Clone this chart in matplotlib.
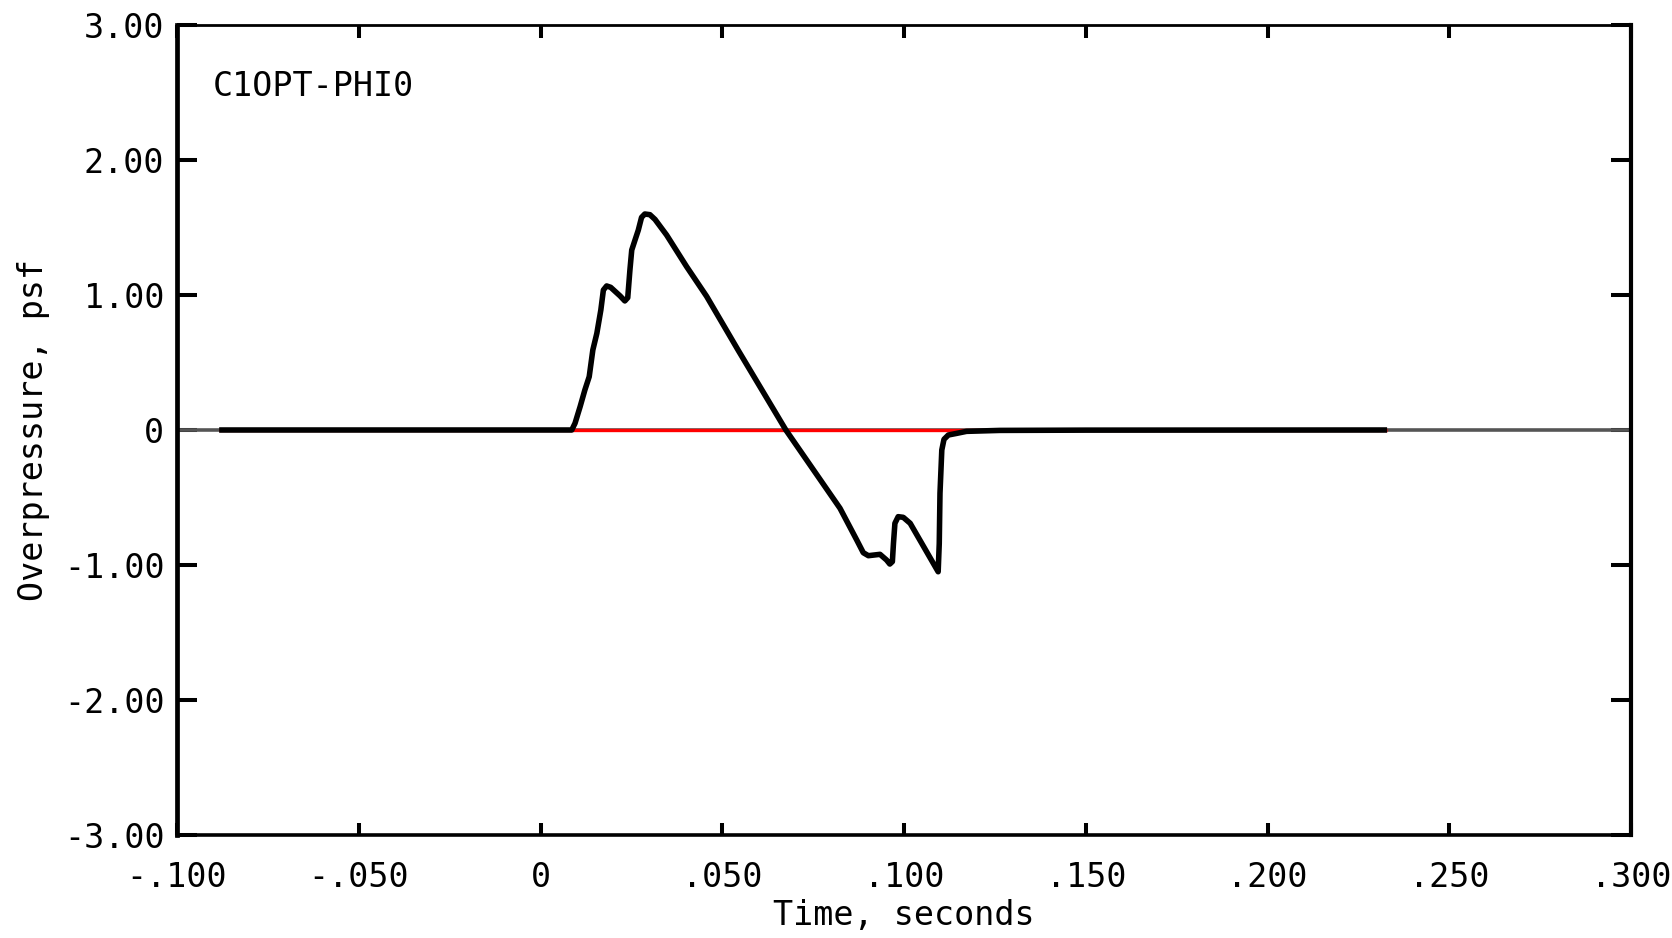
import matplotlib
matplotlib.use("Agg")
import matplotlib.pyplot as plt

# ---- data ----
time_s = [-0.0884, 0.0086, 0.0095, 0.0109, 0.0122, 0.0134, 0.0144, 0.0155, 0.0166,
          0.0173, 0.0182, 0.0193, 0.0219, 0.0232, 0.0240, 0.0246, 0.0251, 0.0260,
          0.0269, 0.0278, 0.0287, 0.0301, 0.0315, 0.0347, 0.0402, 0.0457, 0.0544,
          0.0675, 0.0824, 0.0870, 0.0888, 0.0902, 0.0934, 0.0952, 0.0961, 0.0968,
          0.0971, 0.0975, 0.0984, 0.0998, 0.1017, 0.1094, 0.1097, 0.1099, 0.1104,
          0.1110, 0.1122, 0.1145, 0.1172, 0.1264, 0.1500, 0.2329]
pressure_psf = [0.0, 0.0, 0.05, 0.173, 0.296, 0.395, 0.593, 0.716, 0.889,
                1.037, 1.067, 1.057, 0.993, 0.956, 0.98, 1.185, 1.333, 1.407,
                1.48, 1.575, 1.60, 1.595, 1.56, 1.444, 1.21, 0.99, 0.59,
                0.0, -0.58, -0.815, -0.909, -0.931, -0.921, -0.963, -0.993, -0.975,
                -0.84, -0.691, -0.642, -0.647, -0.691, -1.05, -0.84, -0.469, -0.148,
                -0.069, -0.037, -0.025, -0.010, -0.003, -0.001, 0.0]
ref_red_t = [-0.0884, 0.2329]
ref_red_p = [0.0, 0.0]
zero_t = [-0.100, 0.300]
zero_p = [0.0, 0.0]

xticks = [-0.100, -0.050, 0.0, 0.050, 0.100, 0.150, 0.200, 0.250, 0.300]
xticklabels = ["-.100", "-.050", "0", ".050", ".100", ".150", ".200", ".250", ".300"]
yticks = [3.0, 2.0, 1.0, 0.0, -1.0, -2.0, -3.0]
yticklabels = ["3.00", "2.00", "1.00", "0", "-1.00", "-2.00", "-3.00"]
case_label = "C1OPT-PHI0"
xlabel = "Time, seconds"
ylabel = "Overpressure, psf"

plt.rcParams["font.family"] = ["DejaVu Sans Mono"]
fs = 24

W, H = 1672, 938
fig = plt.figure(figsize=(W / 100, H / 100), dpi=100)
L, R, T, B = 177, 1631, 25, 835
ax = fig.add_axes([L / W, 1 - B / H, (R - L) / W, (B - T) / H])

ax.plot(zero_t, zero_p, color="#555555", lw=2.6, zorder=2, solid_capstyle="butt")
ax.plot(ref_red_t, ref_red_p, color="#ff0000", lw=2.4, zorder=3, solid_capstyle="butt")
ax.plot(time_s, pressure_psf, color="black", lw=4.0, zorder=4,
        solid_joinstyle="round", solid_capstyle="butt")

ax.set_xlim(-0.100, 0.300)
ax.set_ylim(-3.0, 3.0)
ax.set_xticks(xticks)
ax.set_xticklabels(xticklabels)
ax.set_yticks(yticks)
ax.set_yticklabels(yticklabels)

ax.tick_params(axis="x", direction="in", top=True, bottom=True, length=9, width=2.9,
               pad=19, labelsize=fs, colors="black")
ax.tick_params(axis="y", direction="in", left=True, right=True, length=14.5, width=2.9,
               pad=9, labelsize=fs, colors="black")

ax.spines["left"].set_linewidth(3.4)
ax.spines["right"].set_linewidth(3.0)
ax.spines["top"].set_linewidth(2.0)
ax.spines["bottom"].set_linewidth(2.6)

ax.set_xlabel(xlabel, fontsize=fs, va="baseline")
ax.xaxis.set_label_coords(0.5, -(925 - B) / (B - T))
ax.set_ylabel(ylabel, fontsize=fs, va="bottom")
ax.yaxis.set_label_coords(-(L - 50) / (R - L), 0.5)

ax.text(213 / W, 1 - 96 / H, case_label, transform=fig.transFigure,
        fontsize=fs, ha="left", va="baseline")

fig.savefig("out.png", dpi=100)
